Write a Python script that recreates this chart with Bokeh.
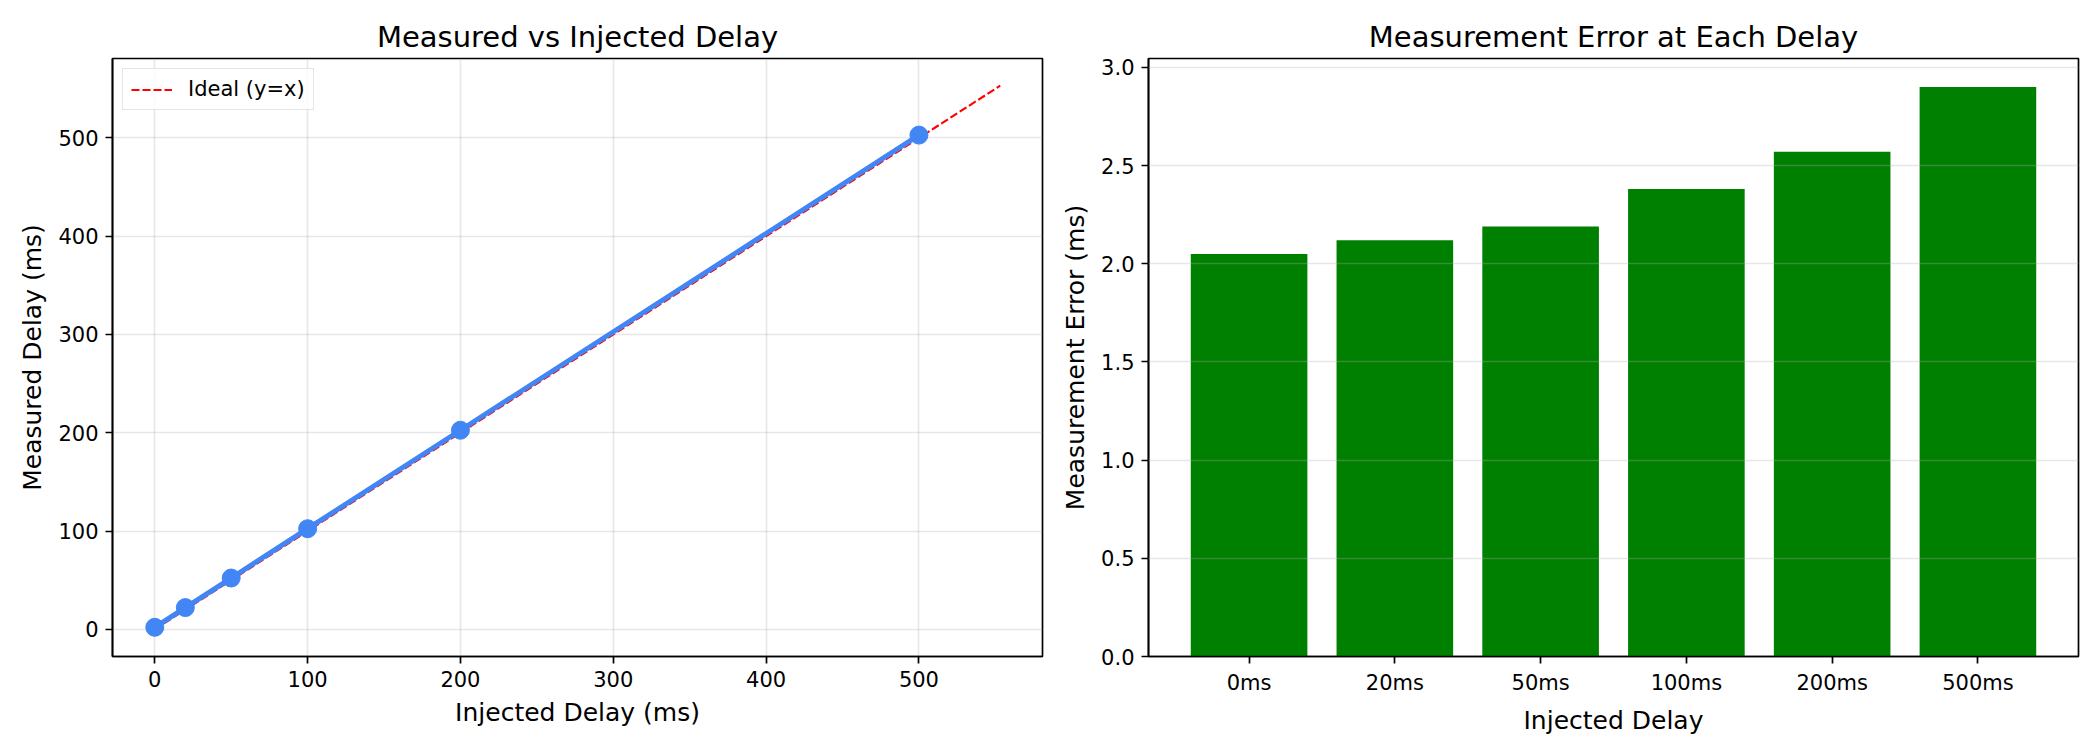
from bokeh.plotting import figure
from bokeh.layouts import row
from bokeh.models import Range1d, FixedTicker, Legend, LegendItem, NumeralTickFormatter
from bokeh.embed import file_html
from bokeh.resources import INLINE

# ---- data ----
injected = [0, 20, 50, 100, 200, 500]
measured = [2.05, 22.12, 52.19, 102.38, 202.57, 502.90]
categories = ["0ms", "20ms", "50ms", "100ms", "200ms", "500ms"]
errors = [2.05, 2.12, 2.19, 2.38, 2.57, 2.90]
x_ticks = [0, 100, 200, 300, 400, 500]
y_ticks = [0, 100, 200, 300, 400, 500]
err_ticks = [0.0, 0.5, 1.0, 1.5, 2.0, 2.5, 3.0]

FONT = "DejaVu Sans"
ideal_end = max(measured) * 1.1
ideal_x = [0, ideal_end]
ideal_y = [0, ideal_end]


def style(p, xlabel, ylabel, title):
    p.title.text = title
    p.title.text_font = FONT
    p.title.text_font_size = "29px"
    p.title.text_font_style = "normal"
    p.title.align = "center"
    p.title.text_color = "black"
    p.outline_line_color = "black"
    p.outline_line_width = 1.7
    p.background_fill_color = "white"
    p.border_fill_color = "white"
    for ax, lab in ((p.xaxis[0], xlabel), (p.yaxis[0], ylabel)):
        ax.axis_label = lab
        ax.axis_label_text_font = FONT
        ax.axis_label_text_font_size = "25px"
        ax.axis_label_text_font_style = "normal"
        ax.axis_label_text_color = "black"
        ax.axis_label_standoff = 8
        ax.major_label_text_font = FONT
        ax.major_label_text_font_size = "21px"
        ax.major_label_text_color = "black"
        ax.major_label_standoff = 7
        ax.major_tick_in = 0
        ax.major_tick_out = 7
        ax.major_tick_line_width = 1.7
        ax.major_tick_line_color = "black"
        ax.minor_tick_line_color = None
        ax.axis_line_color = "black"
        ax.axis_line_width = 1.7
    for g in (p.xgrid[0], p.ygrid[0]):
        g.grid_line_color = "#b0b0b0"
        g.grid_line_alpha = 0.3
        g.grid_line_width = 1.6


# ---- left plot ----
pad = 0.05 * ideal_end
p1 = figure(width=1058, height=750, output_backend="svg", toolbar_location=None,
            x_range=Range1d(-pad, ideal_end + pad), y_range=Range1d(-pad, ideal_end + pad),
            min_border_left=112, min_border_right=16, min_border_top=58, min_border_bottom=94)
style(p1, "Injected Delay (ms)", "Measured Delay (ms)", "Measured vs Injected Delay")
p1.xaxis[0].ticker = FixedTicker(ticks=x_ticks)
p1.yaxis[0].ticker = FixedTicker(ticks=y_ticks)

ideal = p1.line(ideal_x, ideal_y, line_color="red", line_width=2.1, line_dash="8 3")
p1.line(injected, measured, line_color="#4285F4", line_width=5)
p1.scatter(injected, measured, size=18, fill_color="#4285F4", line_color="#4285F4")

legend = Legend(items=[LegendItem(label="Ideal (y=x)", renderers=[ideal])],
                location="top_left")
legend.label_text_font = FONT
legend.label_text_font_size = "21px"
legend.label_text_color = "black"
legend.glyph_width = 41
legend.glyph_height = 21
legend.label_height = 21
legend.label_standoff = 16
legend.padding = 8
legend.margin = 10
legend.border_line_color = "#cccccc"
legend.border_line_width = 1.7
legend.background_fill_alpha = 0.8
p1.add_layout(legend)

# ---- right plot ----
idx = list(range(len(categories)))
p2 = figure(width=1042, height=750, output_backend="svg", toolbar_location=None,
            x_range=Range1d(-0.69, len(categories) - 1 + 0.69),
            y_range=Range1d(0, max(errors) * 1.05),
            min_border_left=88, min_border_right=22, min_border_top=58, min_border_bottom=94)
style(p2, "Injected Delay", "Measurement Error (ms)", "Measurement Error at Each Delay")
p2.vbar(x=idx, top=errors, width=0.8, fill_color="green", line_color=None)
p2.xaxis[0].ticker = FixedTicker(ticks=idx)
p2.xaxis[0].major_label_overrides = {i: c for i, c in zip(idx, categories)}
p2.yaxis[0].ticker = FixedTicker(ticks=err_ticks)
p2.yaxis[0].formatter = NumeralTickFormatter(format="0.0")
p2.xgrid[0].visible = False
p2.ygrid[0].level = "annotation"

layout = row(p1, p2)
open("out.html", "w").write(file_html(layout, INLINE))
